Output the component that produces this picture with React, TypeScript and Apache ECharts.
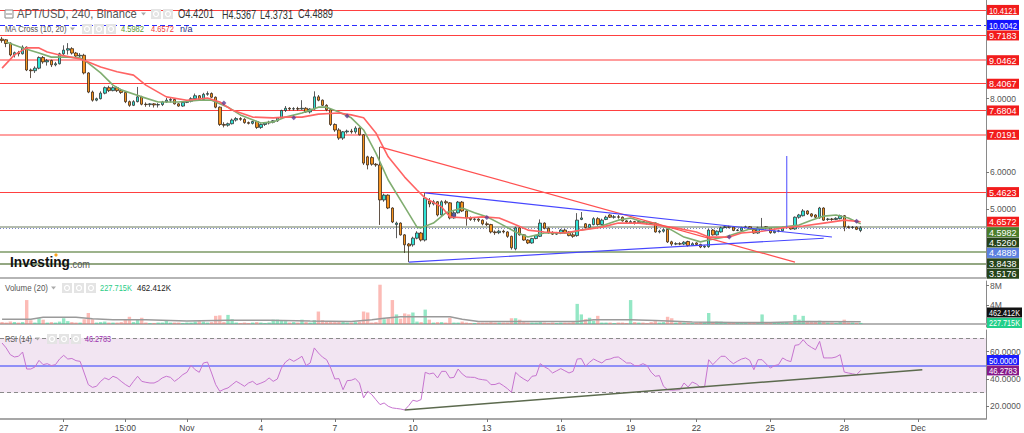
import React, { useEffect, useRef } from "react";
import * as echarts from "echarts";

const SLOT_COUNT = 240;

// [open, close, low, high] per 4h candle
const ohlc: number[][] = [
  [9.62,9.58,9.52,9.68],[9.60,9.50,9.40,9.62],[9.51,9.19,9.15,9.53],[9.19,9.25,9.12,9.28],[9.25,9.22,9.15,9.30],
  [9.22,9.40,9.20,9.45],[9.40,8.78,8.75,9.42],[8.78,8.76,8.56,8.82],[8.76,8.83,8.70,8.88],[8.83,9.12,8.80,9.15],
  [9.12,9.00,8.95,9.16],[9.00,9.04,8.90,9.08],[9.04,8.92,8.86,9.06],[8.92,8.95,8.88,9.00],[8.95,9.22,8.93,9.25],
  [9.22,9.32,9.18,9.45],[9.32,9.36,9.20,9.51],[9.36,9.24,9.20,9.40],[9.24,9.16,9.12,9.27],[9.16,9.18,9.10,9.24],
  [9.18,8.70,8.66,9.22],[8.70,8.18,8.15,8.72],[8.18,7.96,7.92,8.22],[7.96,8.00,7.93,8.03],[8.00,8.15,7.98,8.20],
  [8.15,8.30,8.12,8.33],[8.30,8.22,8.18,8.35],[8.22,8.30,8.20,8.34],[8.30,8.22,8.18,8.33],[8.22,8.17,8.13,8.27],
  [8.17,7.92,7.88,8.20],[7.92,7.82,7.78,7.95],[7.82,7.92,7.80,7.96],[7.92,8.05,7.90,8.32],[8.05,7.85,7.82,8.08],
  [7.85,7.84,7.78,7.90],[7.84,7.86,7.78,7.88],[7.86,7.83,7.76,7.88],[7.83,7.84,7.76,7.88],[7.84,7.91,7.80,7.94],
  [7.91,7.96,7.89,8.02],[7.96,7.98,7.90,8.02],[7.98,7.86,7.84,8.00],[7.86,7.80,7.78,7.88],[7.80,7.90,7.78,7.92],
  [7.90,7.93,7.88,7.96],[7.93,8.00,7.90,8.04],[8.00,8.08,7.98,8.14],[8.08,7.98,7.95,8.10],[7.98,8.12,7.96,8.16],
  [8.12,8.14,8.08,8.20],[8.14,8.04,8.02,8.17],[8.04,7.77,7.74,8.06],[7.77,7.30,7.26,7.79],[7.30,7.28,7.22,7.36],
  [7.28,7.32,7.24,7.35],[7.32,7.42,7.30,7.46],[7.42,7.46,7.38,7.50],[7.46,7.44,7.40,7.50],[7.44,7.35,7.32,7.47],
  [7.35,7.33,7.30,7.38],[7.33,7.38,7.30,7.40],[7.38,7.22,7.18,7.40],[7.22,7.30,7.18,7.33],[7.30,7.34,7.26,7.36],
  [7.34,7.36,7.30,7.40],[7.36,7.40,7.33,7.42],[7.40,7.48,7.37,7.50],[7.48,7.68,7.46,7.70],[7.68,7.74,7.64,7.80],
  [7.74,7.72,7.68,7.77],[7.72,7.73,7.68,7.77],[7.73,7.72,7.68,7.78],[7.72,7.74,7.70,7.96],[7.74,7.64,7.62,7.77],
  [7.64,7.72,7.60,7.74],[7.72,8.05,7.70,8.20],[8.05,7.96,7.93,8.10],[7.96,7.82,7.80,7.98],[7.82,7.70,7.66,7.85],
  [7.70,7.30,7.26,7.72],[7.30,7.15,7.10,7.33],[7.15,6.93,6.88,7.20],[6.93,7.10,6.88,7.12],[7.10,7.12,7.05,7.16],
  [7.12,7.10,7.05,7.18],[7.10,7.20,7.05,7.25],[7.20,7.02,7.00,7.22],[7.02,6.25,6.20,7.04],[6.42,6.20,6.08,6.45],
  [6.40,6.22,6.18,6.44],[6.22,6.20,6.15,6.25],[6.20,5.25,4.57,6.69],[5.25,5.38,5.20,5.42],[5.38,5.03,5.00,5.40],
  [5.03,4.65,4.62,5.05],[4.58,4.62,4.21,4.66],[4.62,4.30,4.28,4.64],[4.30,4.03,3.81,4.32],[4.05,4.00,3.56,4.08],
  [4.03,4.21,3.98,4.25],[4.21,4.35,4.18,4.40],[4.35,4.16,4.12,4.38],[4.16,5.30,4.12,5.44],[5.22,5.14,5.05,5.30],
  [5.14,5.20,5.10,5.25],[5.20,4.84,4.80,5.22],[4.84,5.20,4.82,5.24],[5.20,5.17,5.12,5.25],[5.17,4.76,4.72,5.19],
  [4.76,4.90,4.74,4.95],[4.90,5.19,4.88,5.22],[5.19,4.95,4.92,5.22],[4.95,4.76,4.55,4.97],[4.76,4.72,4.68,4.80],
  [4.72,4.73,4.66,4.76],[4.73,4.70,4.65,4.75],[4.70,4.60,4.56,4.72],[4.60,4.58,4.54,4.66],[4.58,4.38,4.34,4.60],
  [4.38,4.36,4.30,4.42],[4.36,4.40,4.32,4.44],[4.40,4.38,4.34,4.44],[4.38,4.26,4.22,4.40],[4.26,3.95,3.90,4.28],
  [3.92,4.49,3.88,4.52],[4.49,4.30,4.28,4.52],[4.30,4.16,4.14,4.32],[4.16,4.08,4.05,4.18],[4.08,4.20,4.06,4.22],
  [4.20,4.28,4.18,4.30],[4.26,4.62,4.24,4.72],[4.62,4.48,4.45,4.64],[4.48,4.36,4.33,4.50],[4.36,4.32,4.30,4.40],
  [4.32,4.34,4.30,4.38],[4.34,4.43,4.32,4.46],[4.43,4.35,4.33,4.46],[4.38,4.28,4.26,4.40],[4.30,4.26,4.22,4.35],
  [4.28,4.70,4.25,4.89],[4.72,4.76,4.70,4.92],[4.60,4.50,4.48,4.62],[4.50,4.58,4.46,4.60],[4.58,4.74,4.56,4.78],
  [4.74,4.58,4.55,4.78],[4.58,4.70,4.56,4.74],[4.72,4.78,4.70,4.82],[4.84,4.78,4.76,4.86],[4.78,4.79,4.74,4.84],
  [4.79,4.78,4.74,4.84],[4.78,4.68,4.66,4.80],[4.68,4.65,4.62,4.70],[4.62,4.66,4.60,4.70],[4.66,4.63,4.58,4.68],
  [4.63,4.66,4.60,4.68],[4.66,4.64,4.60,4.68],[4.64,4.62,4.58,4.66],[4.62,4.61,4.57,4.65],[4.62,4.38,4.36,4.64],
  [4.38,4.40,4.34,4.44],[4.40,4.44,4.36,4.47],[4.45,4.11,4.08,4.47],[4.11,4.05,4.00,4.14],[4.05,4.06,4.02,4.10],
  [4.06,4.05,4.02,4.10],[4.05,4.10,4.02,4.13],[4.12,4.01,3.98,4.14],[4.02,4.06,4.00,4.10],[4.08,4.04,4.00,4.10],
  [4.04,3.97,3.94,4.06],[3.97,3.99,3.94,4.02],[3.98,4.43,3.95,4.46],[4.43,4.30,4.28,4.46],[4.30,4.40,4.28,4.42],
  [4.38,4.49,4.36,4.52],[4.50,4.52,4.48,4.56],[4.52,4.51,4.48,4.55],[4.51,4.42,4.40,4.53],[4.42,4.43,4.40,4.46],
  [4.42,4.49,4.40,4.52],[4.50,4.52,4.48,4.55],[4.52,4.45,4.43,4.54],[4.45,4.35,4.33,4.47],[4.35,4.49,4.33,4.52],
  [4.45,4.49,4.42,4.76],[4.52,4.48,4.45,4.54],[4.49,4.36,4.33,4.51],[4.36,4.40,4.34,4.42],[4.40,4.41,4.37,4.44],
  [4.41,4.50,4.39,4.52],[4.50,4.51,4.48,4.54],[4.52,4.46,4.44,4.54],[4.46,4.78,4.44,4.80],[4.78,4.84,4.74,4.87],
  [4.82,4.95,4.80,5.00],[4.95,4.87,4.84,4.97],[4.87,4.81,4.78,4.89],[4.84,4.78,4.75,4.86],[4.76,5.03,4.74,5.06],
  [5.03,4.70,4.68,5.05],[4.72,4.73,4.68,4.76],[4.73,4.72,4.68,4.76],[4.72,4.75,4.70,4.78],[4.74,4.82,4.72,4.85],
  [4.82,4.52,4.40,4.84],[4.52,4.50,4.47,4.55],[4.50,4.51,4.47,4.54],[4.51,4.45,4.43,4.53],[4.4201,4.4889,4.3731,4.5367],
];

// volume in millions
const volumeM: number[] = [
  0.4,0.3,0.5,0.4,0.3,0.4,5.0,0.8,0.3,1.2,
  0.9,0.3,0.4,0.3,0.5,1.2,0.6,0.4,0.3,0.3,
  1.0,2.3,1.0,0.3,0.4,0.5,0.3,0.3,0.3,0.4,
  1.0,1.5,0.4,1.0,1.3,0.3,0.2,0.2,0.3,0.3,
  0.7,0.3,0.3,0.3,0.2,0.3,0.3,0.5,0.6,0.5,
  0.3,0.4,1.7,1.8,0.4,1.9,1.0,0.3,0.2,0.3,
  0.2,0.3,0.4,0.3,0.2,0.3,0.9,0.9,0.7,0.6,
  0.3,0.4,0.3,0.9,0.4,0.3,0.8,2.6,0.8,0.5,
  0.6,0.4,0.5,0.5,0.3,0.3,0.4,0.5,2.6,2.4,
  0.3,0.4,8.2,1.0,1.2,5.0,2.0,1.1,2.2,2.0,
  2.4,0.5,0.4,3.0,0.9,0.3,0.4,0.4,0.3,1.3,
  0.3,0.3,0.5,0.3,0.2,0.2,0.3,0.3,0.3,0.4,
  0.3,0.3,0.3,0.3,1.2,1.2,0.9,0.4,0.3,0.3,
  0.3,0.4,0.3,0.2,0.3,0.2,0.3,0.3,0.3,0.4,
  4.2,2.0,1.0,1.3,0.7,1.7,0.3,0.3,0.3,0.2,
  0.3,0.3,0.2,5.0,0.4,0.3,0.3,0.2,0.4,0.6,
  0.3,0.4,1.5,1.2,0.3,0.5,0.3,0.3,0.2,0.3,
  0.4,0.3,2.3,0.4,0.5,0.5,0.3,0.2,0.3,0.2,
  0.3,0.2,0.3,0.3,0.4,2.0,0.3,0.3,0.3,0.2,
  0.3,0.4,0.3,1.9,0.9,1.7,0.4,0.4,0.5,0.7,
  0.5,0.3,0.3,0.2,0.4,0.9,0.3,0.3,0.2,0.227715,
];

const rsi14: number[] = [
  66.3,62.7,57.8,56.1,56.6,59.7,47.3,47.3,48.8,53.6,
  50.5,51.2,49.8,50.5,54.6,57.3,54.6,55.0,53.4,52.9,
  44.4,35.9,33.9,34.7,38.3,40.8,39.5,42.0,40.8,38.3,
  36.0,34.2,38.3,42.0,38.3,37.6,37.1,37.1,38.5,40.8,
  42.0,41.2,38.3,40.5,43.2,44.9,50.0,46.8,44.9,51.7,
  52.4,44.4,35.9,31.0,32.5,33.5,35.9,38.3,36.6,34.7,
  37.1,38.3,35.9,37.0,38.3,40.8,38.3,40.0,48.0,52.4,
  54.6,52.9,54.6,56.6,49.8,51.7,62.7,59.0,56.0,54.1,
  48.0,40.0,40.3,32.2,38.8,39.1,40.3,37.1,26.2,31.0,
  28.6,24.9,21.3,22.5,20.1,18.9,18.5,18.1,17.4,20.6,
  24.5,23.7,25.0,44.9,43.7,44.4,40.8,45.6,45.6,40.8,
  41.2,47.3,43.7,41.5,41.3,41.2,40.0,39.5,39.1,35.9,
  36.0,37.1,35.2,33.0,30.3,44.9,42.0,40.0,38.3,42.0,
  42.5,51.2,49.0,47.3,44.4,46.0,47.6,46.0,44.4,45.6,
  54.6,54.9,49.3,52.2,54.6,53.0,51.7,54.1,54.6,55.8,
  56.1,54.0,51.7,51.7,49.8,49.8,51.2,49.8,45.0,42.0,
  42.5,34.7,32.2,31.8,32.0,32.2,37.1,34.2,37.8,36.4,
  33.9,34.2,54.1,50.5,53.6,56.6,56.6,53.6,51.2,53.0,
  54.6,55.4,53.6,46.8,54.1,54.1,51.0,48.0,49.8,50.5,
  55.4,53.6,52.7,64.6,65.1,68.7,65.1,63.1,61.4,67.5,
  55.4,55.4,55.4,56.1,57.8,45.1,44.4,43.8,43.2,46.2783,
];

// [candle index, value]
const ma10Pts: number[][] = [
  [1,9.54],[5,9.38],[9,9.24],[12,9.13],[16,9.13],[19,9.11],[21,8.97],[24,8.70],[27,8.37],[29,8.24],
  [34,8.05],[38,7.91],[43,7.91],[48,7.96],[51,7.96],[55,7.77],[58,7.56],[63,7.34],[66,7.37],[69,7.50],
  [73,7.61],[77,7.77],[79,7.77],[82,7.64],[85,7.48],[88,7.15],[91,6.52],[94,5.79],[98,5.06],[101,4.51],
  [102,4.49],[105,4.62],[108,4.90],[112,5.03],[115,4.90],[118,4.79],[121,4.62],[125,4.38],[128,4.24],
  [132,4.35],[135,4.35],[138,4.35],[141,4.43],[145,4.51],[150,4.70],[153,4.76],[156,4.65],[159,4.62],
  [163,4.43],[166,4.24],[170,4.11],[172,4.16],[176,4.24],[179,4.35],[182,4.46],[186,4.49],[190,4.51],
  [194,4.57],[197,4.70],[200,4.81],[203,4.84],[206,4.76],[209,4.5982],
];
const ma20Pts: number[][] = [
  [0,8.83],[3,9.19],[6,9.38],[9,9.38],[11,9.27],[14,9.19],[19,9.08],[21,9.00],[24,8.86],[28,8.73],
  [32,8.64],[35,8.37],[40,8.05],[45,7.96],[50,8.02],[53,7.91],[56,7.69],[61,7.50],[66,7.48],[69,7.50],
  [73,7.50],[77,7.58],[82,7.61],[85,7.56],[88,7.48],[91,7.07],[94,6.42],[98,5.87],[101,5.52],[103,5.30],
  [107,5.06],[109,4.79],[113,4.76],[117,4.79],[121,4.76],[124,4.62],[128,4.43],[132,4.38],[137,4.35],
  [141,4.43],[146,4.51],[150,4.62],[155,4.62],[159,4.57],[164,4.49],[169,4.38],[172,4.24],[177,4.24],
  [180,4.35],[185,4.40],[190,4.49],[195,4.54],[200,4.62],[205,4.70],[209,4.6572],
];
// MA cross markers [candle index, price]
const maCrossPts: number[][] = [[54,7.88],[71,7.48],[84,7.53],[110,4.84],[118,4.77],[177,4.24],[208,4.67]];
const volMaPts: number[][] = [
  [0,1.0],[7,1.0],[10,1.4],[18,1.4],[22,1.1],[27,0.9],[35,0.9],[45,0.6],[55,0.8],[65,0.8],[75,0.6],
  [85,0.53],[90,0.87],[93,1.2],[97,1.5],[109,1.5],[112,1.0],[116,0.53],[140,0.53],[144,0.87],[153,0.87],
  [159,0.73],[168,0.4],[178,0.33],[187,0.33],[196,0.53],[209,0.462412],
];

const xTickAt = [15, 30, 45, 63, 81, 100, 118, 136, 153, 169, 187, 205, 223];
const xTickLabels = ["27", "15:00", "Nov", "4", "7", "10", "13", "16", "19", "22", "25", "28", "Dec"];

const priceLevels = [10.4121, 10.0042, 9.7183, 9.0462, 8.4067, 7.6804, 7.0191, 5.4623, 4.526, 4.4889, 3.8438, 3.5176];
const priceTicks = [5, 6, 8];
const volTicks = [4, 8];
const rsiTicks = [20, 40, 60];

const redTrend = [[92, 6.69], [193, 3.56]];
const blueUpper = [[103, 5.44], [202, 4.24]];
const blueLower = [[99, 3.56], [200, 4.21]];
const blueSpike = [[191, 6.44], [191, 4.51]];
const rsiTrend = [[98, 17.4], [224, 46.8]];

const lastOHLC = ["O4.4201", "H4.5367", "L4.3731", "C4.4889"];
const maLast = [4.5982, 4.6572];
const volLast = [0.227715, 0.462412];
const rsiLast = 46.2783;

const FONT_UI = '"Liberation Sans", Arial, sans-serif';
const FONT_AX = '"Liberation Sans", Arial, sans-serif';

export default function App() {
  const ref = useRef<HTMLDivElement>(null);
  useEffect(() => {
    const el = ref.current!;
    const chart = echarts.init(el, null, { renderer: "svg" });
    const cats = Array.from({ length: SLOT_COUNT }, (_, i) => String(i));
    const tickSet = new Set(xTickAt);
    const tickName: Record<number, string> = {};
    xTickAt.forEach((t, k) => (tickName[t] = xTickLabels[k]));

    const mctx = document.createElement("canvas").getContext("2d")!;
    const measure = (font: string, text: string) => {
      mctx.font = font;
      return mctx.measureText(text).width || 1;
    };

    const levelStyle = [
      { color: "#ff4040", width: 1, type: "solid" },
      { color: "#2b2bff", width: 1.2, type: [5, 3] },
      { color: "#ff4040", width: 1, type: "solid" },
      { color: "#ff9c9c", width: 2, type: "solid" },
      { color: "#ff4040", width: 1, type: "solid" },
      { color: "#ff4040", width: 1, type: "solid" },
      { color: "#ffa0a0", width: 2, type: "solid" },
      { color: "#ff4040", width: 1, type: "solid" },
      { color: "#b4bcae", width: 2, type: "solid" },
      { color: "#7a86c8", width: 1, type: [1, 2] },
      { color: "#7d9a66", width: 1.5, type: "solid" },
      { color: "#6f8a58", width: 1.5, type: "solid" },
    ];

    const hiddenX = (gi: number, showLine: boolean, lineColor: string, lw: number) => ({
      type: "category",
      gridIndex: gi,
      data: cats,
      boundaryGap: true,
      axisLine: { show: showLine, lineStyle: { color: lineColor, width: lw } },
      axisTick: { show: false },
      axisLabel: { show: false },
      splitLine: { show: false },
    });

    const rightY = (gi: number, min: number, max: number, ticks: number[], fmt: (v: number) => string) => ({
      type: "value",
      gridIndex: gi,
      position: "right",
      min,
      max,
      scale: true,
      splitLine: { show: false },
      axisLine: { show: true, lineStyle: { color: "#8a8a8a", width: 1 } },
      axisTick: { show: true, customValues: ticks, length: 3, lineStyle: { color: "#777" } },
      axisLabel: {
        show: true,
        customValues: ticks,
        formatter: (v: number) => fmt(v),
        color: "#555",
        fontSize: 8.5,
        fontFamily: FONT_AX,
        margin: 4,
      },
    });

    const lineSeries = (name: string, data: number[][], color: string, width: number, xi: number, yi: number, z = 3) => ({
      type: "line",
      name,
      data,
      xAxisIndex: xi,
      yAxisIndex: yi,
      symbol: "none",
      smooth: false,
      lineStyle: { color, width },
      silent: true,
      z,
    });

    const option: any = {
      animation: false,
      backgroundColor: "#ffffff",
      textStyle: { fontFamily: FONT_UI },
      grid: [
        { left: 0, right: 38, top: 0, height: 278 },
        { left: 0, right: 38, top: 281, height: 46 },
        { left: 0, right: 38, top: 330, height: 89 },
      ],
      xAxis: [
        hiddenX(0, true, "#b5b5b5", 2),
        hiddenX(1, true, "#b5b5b5", 2),
        {
          type: "category",
          gridIndex: 2,
          data: cats,
          boundaryGap: true,
          axisLine: { show: true, lineStyle: { color: "#8a8a8a", width: 1.5 } },
          axisTick: {
            show: true,
            alignWithLabel: true,
            interval: (i: number) => tickSet.has(i),
            length: 3,
            lineStyle: { color: "#777" },
          },
          axisLabel: {
            show: true,
            interval: (i: number) => tickSet.has(i),
            formatter: (_v: string, i: number) => tickName[i] ?? "",
            color: "#444",
            fontSize: 8.5,
            fontFamily: FONT_AX,
            margin: 4,
            hideOverlap: false,
          },
          splitLine: { show: false },
        },
      ],
      yAxis: [
        rightY(0, 3.128, 10.682, priceTicks, (v) => v.toFixed(4)),
        rightY(1, -0.63, 8.98, volTicks, (v) => `${v}M`),
        rightY(2, 10.8, 75.8, rsiTicks, (v) => v.toFixed(4)),
      ],
      series: [
        {
          type: "candlestick",
          name: "APT/USD",
          xAxisIndex: 0,
          yAxisIndex: 0,
          data: ohlc,
          barWidth: 3,
          z: 4,
          itemStyle: {
            color: "#2fe3d6",
            color0: "#f7931e",
            borderColor: "#333333",
            borderColor0: "#3b2a1a",
            borderWidth: 0.8,
          },
          markLine: {
            silent: true,
            symbol: ["none", "none"],
            label: { show: false },
            z: 2,
            data: priceLevels.map((v, k) => ({ yAxis: v, lineStyle: levelStyle[k] })),
          },
        },
        lineSeries("MA10", ma10Pts, "#80ad70", 1.6, 0, 0, 5),
        lineSeries("MA20", ma20Pts, "#ff6464", 1.6, 0, 0, 5),
        {
          type: "scatter",
          name: "MA Cross",
          xAxisIndex: 0,
          yAxisIndex: 0,
          data: maCrossPts,
          symbol: "diamond",
          symbolSize: 5,
          itemStyle: { color: "#5d3d94" },
          silent: true,
          z: 7,
        },
        lineSeries("Trend red", redTrend, "#ff5050", 1.2, 0, 0, 6),
        lineSeries("Trend upper", blueUpper, "#4646ff", 1.1, 0, 0, 6),
        lineSeries("Trend lower", blueLower, "#4646ff", 1.1, 0, 0, 6),
        lineSeries("Spike", blueSpike, "#5a5aff", 1.1, 0, 0, 6),
        {
          type: "bar",
          name: "Volume",
          xAxisIndex: 1,
          yAxisIndex: 1,
          barWidth: 3.4,
          data: volumeM.map((v, i) => ({
            value: v,
            itemStyle: {
              color: ohlc[i][1] >= ohlc[i][0] ? "rgba(60,212,150,0.55)" : "rgba(250,120,110,0.5)",
            },
          })),
          silent: true,
        },
        lineSeries("Volume MA", volMaPts, "#9a9a9a", 1.5, 1, 1, 5),
        {
          type: "line",
          name: "RSI",
          xAxisIndex: 2,
          yAxisIndex: 2,
          data: rsi14,
          symbol: "none",
          lineStyle: { color: "#c674cf", width: 1 },
          silent: true,
          z: 5,
          markArea: {
            silent: true,
            itemStyle: { color: "#f2e5f2" },
            data: [[{ yAxis: 30 }, { yAxis: 70 }]],
          },
          markLine: {
            silent: true,
            symbol: ["none", "none"],
            label: { show: false },
            data: [
              { yAxis: 70, lineStyle: { color: "#8a8a8a", width: 1, type: [4, 3] } },
              { yAxis: 30, lineStyle: { color: "#8a8a8a", width: 1, type: [4, 3] } },
              { yAxis: 50, lineStyle: { color: "#8f8ff7", width: 2, type: "solid" } },
            ],
          },
        },
        lineSeries("RSI trend", rsiTrend, "#5c6a4e", 1.4, 2, 2, 6),
      ],
    };
    chart.setOption(option);

    const yPix = (axis: number, v: number) => chart.convertToPixel({ yAxisIndex: axis } as any, v) as number;
    const g: any[] = [];
    // text squeezed horizontally to a target width (mimics the narrow UI font)
    const fitText = (x: number, y: number, text: string, fill: string, size: number, width: number, weight = "normal", z = 100) => {
      const font = `${weight} ${size}px ${FONT_UI}`;
      const w = measure(font, text);
      const s = Math.min(1, width / w);
      g.push({
        type: "text", silent: true, z, x, y, scaleX: s, scaleY: 1,
        style: { text, fill, font, align: "left", verticalAlign: "middle", textAlign: "left", textVerticalAlign: "middle" },
      });
    };
    const box = (y: number, text: string, bg: string, w = 32) => {
      g.push({ type: "rect", silent: true, z: 100, shape: { x: 987, y: y - 5, width: w, height: 10 }, style: { fill: bg } });
      fitText(989, y + 0.5, text, "#ffffff", 9, w - 4, "normal", 101);
    };
    const icon = (x: number, y: number) => {
      g.push({ type: "rect", silent: true, z: 100, shape: { x, y: y - 5, width: 10, height: 10 }, style: { fill: "#e4e4e4" } });
      g.push({ type: "circle", silent: true, z: 101, shape: { cx: x + 5, cy: y, r: 2.5 }, style: { fill: "none", stroke: "#ffffff", lineWidth: 1.2 } });
    };
    const caret = (x: number, y: number) => {
      g.push({ type: "polygon", silent: true, z: 100, shape: { points: [[x, y - 1.5], [x + 5, y - 1.5], [x + 2.5, y + 1.5]] }, style: { fill: "#aaaaaa" } });
    };

    // main price boxes
    const red = "#f21c1c";
    const fixedMain: [number, string][] = [
      [10.4121, red], [10.0042, "#1414ff"], [9.7183, red], [9.0462, red], [8.4067, red], [7.6804, red], [7.0191, red], [5.4623, red],
    ];
    fixedMain.forEach(([v, c]) => box(yPix(0, v), v.toFixed(4), c));
    const stackMain: [number, string][] = [
      [maLast[1], red], [maLast[0], "#4a7d2a"], [4.526, "#26431a"], [4.4889, "#5b80e0"], [3.8438, "#26431a"], [3.5176, "#26431a"],
    ];
    let prev = -1e9;
    stackMain.forEach(([v, c]) => {
      const y = Math.max(yPix(0, v), prev + 10.4);
      prev = y;
      box(y, v.toFixed(4), c);
    });
    // volume boxes (stack upward)
    const yv0 = yPix(1, volLast[0]);
    const yv1 = Math.min(yPix(1, volLast[1]), yv0 - 10.4);
    box(yv0, "227.715K", "#22cf8a", 35);
    box(yv1, "462.412K", "#111111", 35);
    // rsi boxes
    const yr0 = yPix(2, rsiLast);
    const yr1 = Math.min(yPix(2, 50), yr0 - 10.4);
    box(yr0, rsiLast.toFixed(4), "#86198a");
    box(yr1, "50.0000", "#1c1cff");

    // legends
    g.push({ type: "rect", silent: true, z: 100, shape: { x: 5, y: 10, width: 8, height: 8 }, style: { fill: "#fff", stroke: "#888", lineWidth: 1 } });
    g.push({ type: "line", silent: true, z: 100, shape: { x1: 6, y1: 14, x2: 12, y2: 14 }, style: { stroke: "#888", lineWidth: 1 } });
    fitText(17, 14, "APT/USD, 240, Binance", "#555", 12, 120);
    caret(141, 14);
    icon(151, 14);
    icon(163, 14);
    fitText(178, 14, lastOHLC[0], "#333", 12, 36);
    fitText(222, 14, lastOHLC[1], "#333", 12, 34);
    fitText(260, 14, lastOHLC[2], "#333", 12, 33);
    fitText(298, 14, lastOHLC[3], "#333", 12, 35);

    fitText(5, 29, "MA Cross (10, 20)", "#555", 9, 62);
    caret(70, 29);
    icon(82, 29);
    icon(94, 29);
    icon(106, 29);
    fitText(121, 29, maLast[0].toFixed(4), "#5a9a38", 9, 23);
    fitText(151, 29, maLast[1].toFixed(4), "#f03c3c", 9, 23);
    fitText(180, 29, "n/a", "#1b2a86", 9, 13);

    fitText(5, 288, "Volume (20)", "#555", 9.5, 43);
    caret(51, 288);
    icon(62, 288);
    icon(74, 288);
    icon(86, 288);
    fitText(100, 288, "227.715K", "#2bcc86", 9.5, 32);
    fitText(137, 288, "462.412K", "#222", 9.5, 34);

    fitText(5, 339, "RSI (14)", "#555", 9.5, 27);
    caret(35, 339);
    icon(47, 339);
    icon(59, 339);
    icon(71, 339);
    fitText(85, 339, rsiLast.toFixed(4), "#9b2fae", 9.5, 26);

    // Investing.com logo
    fitText(10, 262, "Investing", "#111", 15, 60, "bold", 102);
    fitText(70, 264, ".com", "#555", 10, 20, "normal", 102);
    g.push({ type: "circle", silent: true, z: 103, shape: { cx: 56, cy: 255, r: 1.6 }, style: { fill: "#f7a21b" } });

    chart.setOption({ graphic: g });
    return () => chart.dispose();
  }, []);
  return (
    <div
      ref={ref}
      style={{ position: "fixed", left: 0, top: 0, width: 1024, height: 433, background: "#fff" }}
    />
  );
}
